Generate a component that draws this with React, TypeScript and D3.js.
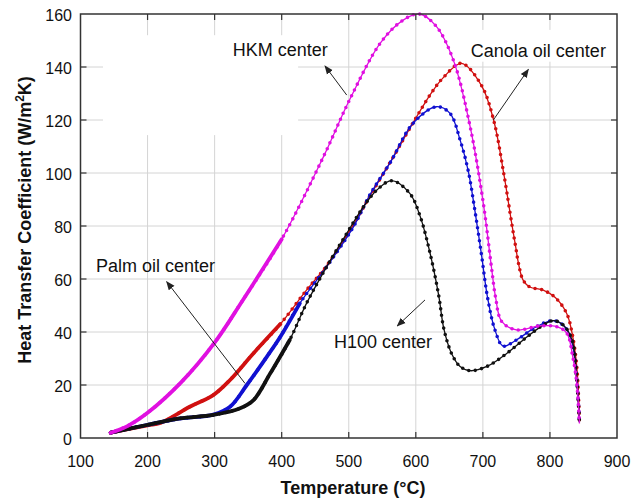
import React from "react";
import * as d3 from "d3";

// temperature (°C) and heat transfer coefficient
const hkmTemp = [145, 170, 200, 250, 300, 342, 400, 462, 502, 547, 580, 605, 630, 656, 681, 701, 713, 719, 728, 750, 785, 810, 825, 834, 840, 844];
const hkmHtc = [2, 4.5, 9.5, 21, 36, 52, 75, 106, 128, 149, 157.5, 160, 155.5, 142.6, 117.5, 88, 64, 53, 44, 40.8, 42.3, 42, 39.6, 30.7, 20.7, 5.5];

const canolaTemp = [145, 200, 219, 263, 298, 323, 358, 398, 437, 467, 507, 532, 564, 596, 624, 641, 668, 698, 716, 731, 743, 749, 753, 760, 770, 790, 808, 825, 833, 840, 844];
const canolaHtc = [2, 4.8, 5.7, 11.8, 16.2, 21.9, 32, 43, 55.8, 65, 80.5, 91.5, 105, 119, 130.5, 136, 141.4, 133, 120, 100, 81, 72, 66, 59.6, 57, 55.8, 53, 47, 39.6, 27, 6];

const palmTemp = [145, 200, 250, 298, 323, 348, 378, 398, 427, 467, 507, 532, 562, 596, 631, 651, 666, 678, 688, 698, 707, 718, 730, 750, 780, 805, 822, 833, 840, 844];
const palmHtc = [2, 5, 7.4, 8.8, 11.8, 20, 30.7, 38.2, 50.8, 64.6, 79.7, 92, 104, 118.8, 125, 122.5, 112.5, 101, 86, 69, 53, 40.8, 34.7, 37, 42, 44.3, 42, 35.8, 22, 6];

const h100Temp = [145, 199, 248, 298, 338, 358, 383, 412, 437, 467, 497, 522, 542, 564, 591, 606, 621, 634, 642, 654, 666, 681, 706, 736, 766, 790, 805, 820, 833, 840, 844];
const h100Htc = [2, 4.9, 7.4, 8.7, 11.2, 14.3, 24.4, 37, 50.8, 64.6, 77.2, 87.3, 93.6, 97.1, 92.3, 84, 70, 54, 41, 31.5, 27, 25.4, 27, 32, 38.2, 42.6, 44.3, 42.6, 37, 22, 6];

const xTicks = [100, 200, 300, 400, 500, 600, 700, 800, 900];
const yTicks = [0, 20, 40, 60, 80, 100, 120, 140, 160];

// label text, label anchor and arrow (tail -> head), all in data units
const noteText = ["HKM center", "Canola oil center", "Palm oil center", "H100 center"];
const noteAt = [[327, 144.3], [682, 143.7], [123, 62.8], [478, 33.8]];
const arrowFrom = [[497, 129.4], [715.6, 120], [345.3, 20.6], [613.7, 52.1]];
const arrowTo = [[464.6, 140.4], [767.8, 139.1], [228.5, 59], [572.4, 42.3]];

const W = 632;
const H = 499;
const font = "'Liberation Sans', Arial, sans-serif";

const series = [
  { name: "canola", t: canolaTemp, h: canolaHtc, color: "#d01010", thickUntil: 430 },
  { name: "palm", t: palmTemp, h: palmHtc, color: "#1010d0", thickUntil: 430 },
  { name: "h100", t: h100Temp, h: h100Htc, color: "#111111", thickUntil: 415 },
  { name: "hkm", t: hkmTemp, h: hkmHtc, color: "#e010e0", thickUntil: 400 },
];

export default function App() {
  const x = d3.scaleLinear().domain([100, 900]).range([80.5, 617]);
  const y = d3.scaleLinear().domain([0, 160]).range([438, 14]);

  const line = d3
    .line<[number, number]>()
    .x((d) => x(d[0]))
    .y((d) => y(d[1]))
    .curve(d3.curveCatmullRom.alpha(0.5));

  const [x0, x1] = x.range();
  const [y0, y1] = y.range();

  return (
    <svg
      width={W}
      height={H}
      style={{ position: "absolute", left: 0, top: 0, background: "#fff" }}
      fontFamily={font}
    >
      <defs>
        <marker id="head" viewBox="0 0 10 10" refX="9" refY="5" markerWidth="9" markerHeight="9" orient="auto" markerUnits="userSpaceOnUse">
          <path d="M0,1 L10,5 L0,9 z" fill="#222" />
        </marker>
      </defs>

      {/* grid */}
      <g stroke="#d4d4d4" strokeWidth={1}>
        {xTicks.slice(1, -1).map((t) => (
          <line key={"gx" + t} x1={x(t)} x2={x(t)} y1={y0} y2={y1} />
        ))}
        {yTicks.slice(1, -1).map((t) => (
          <line key={"gy" + t} x1={x0} x2={x1} y1={y(t)} y2={y(t)} />
        ))}
      </g>

      {/* white text boxes hiding the grid behind labels */}
      <rect x={x(133.6)} y={y(152)} width={x(424.5) - x(133.6)} height={y(114.3) - y(152)} fill="#fff" />
      <rect x={x(669)} y={y(154)} width={x(892) - x(669)} height={y(142) - y(154)} fill="#fff" />

      {/* curves */}
      {series.map((s) => {
        const pts = s.t.map((t, i) => [t, s.h[i]] as [number, number]);
        const low = pts.filter((p) => p[0] <= s.thickUntil);
        const d = line(pts) || "";
        return (
          <g key={s.name} fill="none" stroke={s.color}>
            <path d={d} strokeWidth={1.3} />
            <path d={d} strokeWidth={3.6} strokeDasharray="0 6.5" strokeLinecap="round" />
            <path d={line(low) || ""} strokeWidth={3.8} strokeLinecap="round" />
          </g>
        );
      })}

      {/* frame and inward ticks */}
      <rect x={x0} y={y1} width={x1 - x0} height={y0 - y1} fill="none" stroke="#333" strokeWidth={1.5} />
      <g stroke="#333" strokeWidth={1.2}>
        {xTicks.slice(1, -1).map((t) => (
          <g key={"tx" + t}>
            <line x1={x(t)} x2={x(t)} y1={y0} y2={y0 - 6} />
            <line x1={x(t)} x2={x(t)} y1={y1} y2={y1 + 6} />
          </g>
        ))}
        {yTicks.slice(1, -1).map((t) => (
          <g key={"ty" + t}>
            <line x1={x0} x2={x0 + 6} y1={y(t)} y2={y(t)} />
            <line x1={x1} x2={x1 - 6} y1={y(t)} y2={y(t)} />
          </g>
        ))}
      </g>

      {/* tick labels */}
      <g fontSize={16} fill="#111">
        {xTicks.map((t) => (
          <text key={"lx" + t} x={x(t)} y={466.5} textAnchor="middle">
            {t}
          </text>
        ))}
        {yTicks.map((t) => (
          <text key={"ly" + t} x={72} y={y(t) + 6.5} textAnchor="end">
            {t}
          </text>
        ))}
      </g>

      {/* axis titles */}
      <text x={353} y={494} textAnchor="middle" fontSize={18} fontWeight="bold" fill="#111">
        Temperature (°C)
      </text>
      <text transform="translate(31,220) rotate(-90)" textAnchor="middle" fontSize={18} fontWeight="bold" fill="#111">
        Heat Transfer Coefficient (W/m<tspan fontSize={12} dy={-7}>2</tspan>
        <tspan dy={7}>K)</tspan>
      </text>

      {/* annotations */}
      {noteText.map((txt, i) => (
        <g key={txt}>
          <text x={x(noteAt[i][0])} y={y(noteAt[i][1])} fontSize={18} fill="#111">
            {txt}
          </text>
          <line
            x1={x(arrowFrom[i][0])}
            y1={y(arrowFrom[i][1])}
            x2={x(arrowTo[i][0])}
            y2={y(arrowTo[i][1])}
            stroke="#222"
            strokeWidth={1}
            markerEnd="url(#head)"
          />
        </g>
      ))}
    </svg>
  );
}
